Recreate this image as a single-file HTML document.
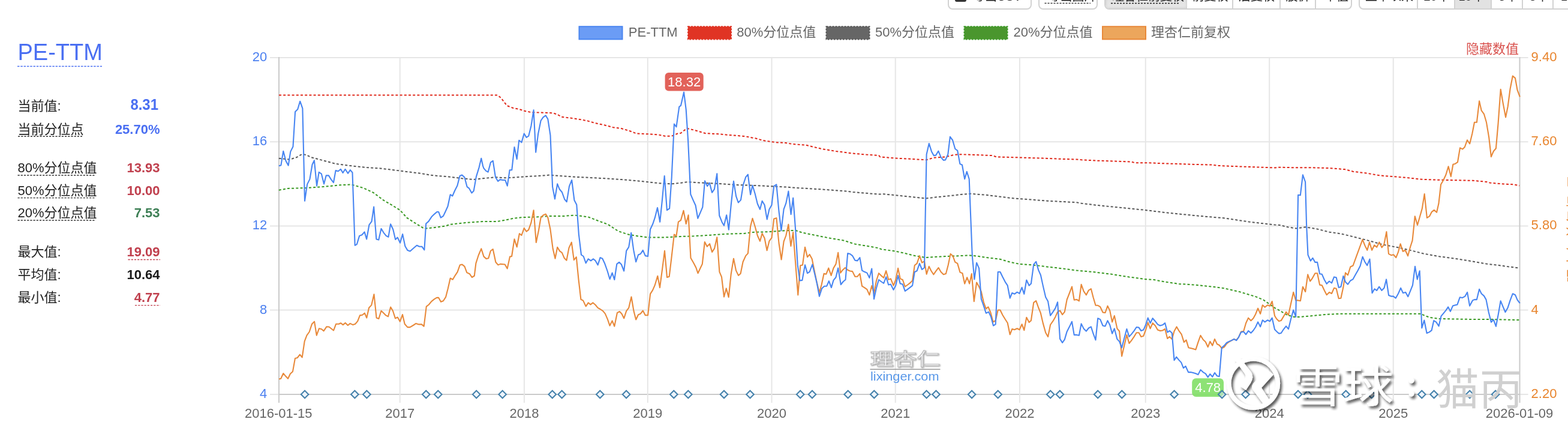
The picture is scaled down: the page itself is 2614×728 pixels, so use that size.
<!DOCTYPE html>
<html><head><meta charset="utf-8"><title>PE-TTM</title>
<style>
html,body{margin:0;padding:0;background:#fff;}
body{width:2614px;height:728px;position:relative;overflow:hidden;font-family:"Liberation Sans", "Noto Sans CJK SC", sans-serif;}
.btn{position:absolute;top:-30px;height:46px;border:2px solid #d2d2d2;border-radius:0 0 8px 8px;box-sizing:border-box;background:#fff;}
</style></head><body>
<div class="btn" style="left:1580px;width:140px"></div>
<div class="btn" style="left:1731px;width:99px"></div>
<div class="btn" style="left:1841px;width:413px;overflow:hidden"><div style="position:absolute;left:0;top:0;width:136px;height:100%;background:linear-gradient(#d8d8d8,#e8e8e8);box-shadow:inset 0 0 4px rgba(0,0,0,.15)"></div>
<div style="position:absolute;left:211px;top:0;height:100%;border-left:2px solid #d2d2d2"></div><div style="position:absolute;left:290px;top:0;height:100%;border-left:2px solid #d2d2d2"></div><div style="position:absolute;left:349px;top:0;height:100%;border-left:2px solid #d2d2d2"></div></div>
<div class="btn" style="left:2265px;width:380px;overflow:hidden"><div style="position:absolute;left:157px;top:0;width:59px;height:100%;background:#e2e2e2;border-left:2px solid #d2d2d2;border-right:2px solid #d2d2d2"></div>
<div style="position:absolute;left:95px;top:0;height:100%;border-left:2px solid #d2d2d2"></div><div style="position:absolute;left:270px;top:0;height:100%;border-left:2px solid #d2d2d2"></div><div style="position:absolute;left:321px;top:0;height:100%;border-left:2px solid #d2d2d2"></div></div>
<div style="position:absolute;left:1592px;top:-10px;width:19px;height:13px;background:#333;border-radius:3px"></div>
<svg width="2614" height="728" viewBox="0 0 2614 728" style="position:absolute;left:0;top:0"><defs><filter id="sh" x="-20%" y="-20%" width="140%" height="140%"><feGaussianBlur in="SourceAlpha" stdDeviation="2.2"/><feOffset dx="3" dy="4" result="b"/><feFlood flood-color="#000" flood-opacity="0.68"/><feComposite in2="b" operator="in"/><feMerge><feMergeNode/><feMergeNode in="SourceGraphic"/></feMerge></filter><filter id="sh2" x="-20%" y="-20%" width="140%" height="140%"><feGaussianBlur in="SourceAlpha" stdDeviation="1"/><feOffset dx="1" dy="1" result="b"/><feFlood flood-color="#000" flood-opacity="0.45"/><feComposite in2="b" operator="in"/><feMerge><feMergeNode/><feMergeNode in="SourceGraphic"/></feMerge></filter></defs><line x1="450" y1="96" x2="2547.5" y2="96" stroke="#e6e6e6" stroke-width="2"/><line x1="450" y1="236.2" x2="2547.5" y2="236.2" stroke="#e6e6e6" stroke-width="2"/><line x1="450" y1="376.4" x2="2547.5" y2="376.4" stroke="#e6e6e6" stroke-width="2"/><line x1="450" y1="516.6" x2="2547.5" y2="516.6" stroke="#e6e6e6" stroke-width="2"/><line x1="450" y1="657" x2="2547.5" y2="657" stroke="#e6e6e6" stroke-width="2"/><line x1="465" y1="657" x2="2533.5" y2="657" stroke="#cacaca" stroke-width="2"/><line x1="666.7" y1="96" x2="666.7" y2="671" stroke="#e6e6e6" stroke-width="2"/><line x1="873.9" y1="96" x2="873.9" y2="671" stroke="#e6e6e6" stroke-width="2"/><line x1="1079.8" y1="96" x2="1079.8" y2="671" stroke="#e6e6e6" stroke-width="2"/><line x1="1286.5" y1="96" x2="1286.5" y2="671" stroke="#e6e6e6" stroke-width="2"/><line x1="1492.7" y1="96" x2="1492.7" y2="671" stroke="#e6e6e6" stroke-width="2"/><line x1="1699.9" y1="96" x2="1699.9" y2="671" stroke="#e6e6e6" stroke-width="2"/><line x1="1909.7" y1="96" x2="1909.7" y2="671" stroke="#e6e6e6" stroke-width="2"/><line x1="2116.2" y1="96" x2="2116.2" y2="671" stroke="#e6e6e6" stroke-width="2"/><line x1="2322.7" y1="96" x2="2322.7" y2="671" stroke="#e6e6e6" stroke-width="2"/><line x1="465" y1="95" x2="465" y2="671" stroke="#cacaca" stroke-width="2"/><line x1="2533.5" y1="95" x2="2533.5" y2="671" stroke="#cacaca" stroke-width="2"/><g font-family='"Liberation Sans", "Noto Sans CJK SC", sans-serif' font-size="22" fill="#4a7ff0" text-anchor="end"><text x="445.3" y="101.9">20</text><text x="445.3" y="242.1">16</text><text x="445.3" y="382.3">12</text><text x="445.3" y="522.5">8</text><text x="445.3" y="662.9">4</text></g><g font-family='"Liberation Sans", "Noto Sans CJK SC", sans-serif' font-size="22" fill="#e8852e" text-anchor="start"><text x="2552.6" y="101.9">9.40</text><text x="2552.6" y="242.1">7.60</text><text x="2552.6" y="382.3">5.80</text><text x="2552.6" y="522.5">4</text><text x="2552.6" y="662.9">2.20</text></g><g font-family='"Liberation Sans", "Noto Sans CJK SC", sans-serif' font-size="22" fill="#666" text-anchor="middle"><text x="464.3" y="695.6">2016-01-15</text><text x="666.7" y="695.6">2017</text><text x="873.9" y="695.6">2018</text><text x="1079.8" y="695.6">2019</text><text x="1286.5" y="695.6">2020</text><text x="1492.7" y="695.6">2021</text><text x="1699.9" y="695.6">2022</text><text x="1909.7" y="695.6">2023</text><text x="2116.2" y="695.6">2024</text><text x="2322.7" y="695.6">2025</text><text x="2533" y="695.6">2026-01-09</text></g><polyline points="465.0,158.6 829.6,158.6 835.2,163.1 845.0,175.9 854.7,179.8 865.9,182.0 874.3,184.8 885.4,187.1 902.2,187.6 921.7,188.2 930.0,191.0 935.6,194.6 952.4,196.8 969.1,199.3 980.3,201.6 991.4,204.9 1008.2,208.5 1022.1,212.2 1036.0,214.1 1050.0,218.3 1061.2,222.5 1080.7,223.3 1097.4,224.4 1108.6,226.7 1119.7,226.7 1129.5,222.5 1135.0,221.7 1145.1,213.8 1156.8,216.6 1176.4,222.2 1198.7,223.3 1215.4,225.0 1240.5,226.9 1260.0,230.5 1271.2,233.9 1293.5,237.2 1310.3,238.1 1321.4,240.0 1343.7,241.7 1354.9,244.5 1371.6,248.4 1393.9,252.0 1421.8,255.6 1444.1,257.6 1465.0,259.0 1467.3,261.4 1492.4,263.6 1517.5,264.7 1544.0,266.4 1556.6,262.8 1576.1,261.4 1590.0,258.0 1601.2,257.2 1626.3,258.0 1654.2,259.1 1661.2,261.4 1682.1,261.9 1710.0,262.8 1737.9,263.6 1765.8,264.7 1795.0,265.6 1802.9,266.3 1830.8,267.7 1858.7,268.5 1886.6,269.6 1892.2,271.3 1914.5,271.3 1942.4,272.4 1970.3,273.2 1998.2,274.1 2020.5,274.6 2031.6,276.0 2053.9,276.9 2081.8,278.0 2125.0,279.4 2132.9,278.7 2160.8,279.3 2188.7,279.3 2216.6,280.1 2241.7,282.1 2255.6,285.7 2278.0,288.5 2300.3,292.4 2322.6,294.1 2344.9,296.0 2370.0,298.8 2397.9,299.7 2425.8,300.2 2455.0,300.8 2478.0,302.9 2483.6,304.5 2505.9,306.5 2522.6,307.3 2533.2,309.3" fill="none" stroke="#e02a1c" stroke-width="2" stroke-dasharray="4 3.2"/><polyline points="464.8,263.7 482.9,265.7 494.0,262.3 503.8,256.7 510.8,258.1 519.2,262.3 538.7,267.3 559.6,272.9 580.5,275.7 611.2,279.1 633.5,280.4 667.0,284.6 700.5,288.8 722.8,292.4 747.9,294.4 770.2,297.2 789.7,299.1 805.0,297.2 826.8,295.2 840.8,296.3 854.7,295.8 874.3,294.4 896.6,293.0 916.1,291.6 932.8,293.0 952.4,294.4 980.3,295.8 1008.2,297.2 1036.0,299.1 1063.9,301.4 1083.5,303.6 1103.0,305.6 1119.7,306.4 1135.0,304.7 1145.7,303.2 1170.8,304.6 1198.7,306.0 1226.6,308.0 1254.5,308.8 1282.4,310.2 1310.3,311.6 1338.2,313.6 1366.0,315.2 1393.9,317.2 1410.7,318.6 1421.8,320.0 1465.0,323.6 1472.9,323.3 1495.2,325.5 1517.5,327.8 1544.0,330.5 1562.2,328.3 1584.5,326.1 1601.2,324.1 1617.9,322.7 1645.8,325.0 1668.2,327.8 1690.5,330.5 1718.4,332.5 1746.3,334.7 1795.0,337.2 1802.9,338.8 1830.8,342.1 1858.7,344.9 1886.6,347.7 1908.9,349.9 1942.4,354.1 1970.3,356.9 1998.2,359.7 2040.0,363.3 2053.9,365.3 2081.8,369.5 2109.7,372.8 2125.0,374.5 2132.9,374.9 2146.8,378.3 2160.8,380.5 2176.1,378.3 2194.3,381.1 2216.6,386.7 2236.1,389.5 2258.4,395.0 2280.7,400.6 2305.8,407.6 2328.2,411.8 2350.5,416.8 2372.8,422.4 2397.9,427.1 2425.8,430.8 2455.0,435.5 2478.0,439.6 2497.6,441.8 2517.1,444.6 2533.0,446.5" fill="none" stroke="#5a5a5a" stroke-width="2" stroke-dasharray="4 3.2"/><polyline points="464.8,316.7 480.1,313.9 510.8,313.1 538.7,311.1 566.6,308.3 586.1,307.5 605.6,313.1 622.4,320.9 639.1,333.4 655.8,343.2 667.0,350.2 678.2,362.7 692.1,371.7 707.4,380.9 720.0,379.5 742.3,376.7 750.7,373.9 775.8,371.1 805.0,368.9 829.6,368.9 840.8,366.9 854.7,364.1 868.7,362.2 896.6,361.3 918.9,359.9 941.2,359.9 957.9,358.5 980.3,361.3 997.0,367.8 1013.7,373.9 1030.5,385.0 1047.2,390.6 1064.0,393.4 1080.7,395.6 1105.8,395.6 1135.0,394.0 1156.8,393.3 1184.7,391.7 1212.6,389.7 1240.5,388.9 1254.5,386.9 1282.4,386.1 1310.3,384.1 1327.0,384.1 1338.2,387.8 1354.9,391.1 1380.0,396.1 1407.9,400.9 1424.6,406.4 1449.7,410.6 1465.0,413.4 1469.5,415.3 1491.0,418.3 1506.3,421.4 1524.8,426.0 1543.2,429.1 1567.7,427.5 1589.2,426.6 1616.8,425.4 1629.0,426.6 1644.4,429.1 1665.9,431.5 1684.3,436.7 1699.6,439.8 1721.1,441.3 1745.6,444.4 1767.1,446.9 1795.0,450.6 1821.0,452.9 1851.7,456.6 1882.4,461.5 1910.0,465.2 1922.2,465.8 1943.7,469.8 1965.2,472.9 1989.7,474.4 2020.4,477.5 2038.8,479.9 2066.4,486.1 2094.0,494.4 2106.3,499.6 2125.0,512.8 2129.5,515.1 2144.9,524.3 2157.1,528.0 2166.3,528.0 2190.9,525.8 2212.4,523.7 2233.8,522.8 2273.7,522.8 2319.7,522.8 2368.8,522.8 2374.9,525.8 2384.1,528.9 2399.5,531.0 2455.0,532.0 2483.6,532.0 2533.8,533.1" fill="none" stroke="#3b9a25" stroke-width="2" stroke-dasharray="4 3.2"/><polyline points="465.0,631.5 468.2,630.8 472.3,622.0 476.3,626.8 480.1,630.8 483.9,622.7 488.0,618.9 492.0,596.9 495.8,596.0 499.9,590.7 503.7,595.4 507.7,568.7 511.5,558.6 515.6,553.0 520.0,539.8 524.1,535.7 527.8,558.6 531.9,547.3 536.0,548.3 539.7,551.4 544.5,544.2 548.5,544.5 556.1,550.5 560.1,539.8 564.9,539.8 568.0,538.2 571.8,541.1 575.8,537.9 579.9,542.0 583.7,538.9 588.4,541.1 592.2,539.8 596.2,535.1 600.0,525.4 604.1,524.7 607.9,521.6 611.3,529.5 615.1,512.8 619.2,508.4 623.5,490.2 627.6,529.5 631.4,531.0 635.5,517.8 640.2,522.2 643.3,525.4 647.1,527.3 651.2,511.6 654.9,517.8 659.0,530.4 662.8,528.5 666.9,535.7 671.0,524.1 674.7,539.8 679.4,545.1 683.5,545.1 688.8,542.0 693.5,538.9 698.3,540.4 703.0,540.4 706.7,543.6 710.8,510.6 714.9,507.5 719.3,502.1 724.3,498.1 728.1,495.9 731.2,495.9 735.0,502.8 739.0,501.2 743.1,494.9 746.9,480.2 750.7,463.5 754.7,465.7 758.8,458.8 762.6,453.2 766.7,441.6 770.4,440.6 774.5,443.8 778.3,454.1 783.0,456.3 786.8,462.0 790.8,459.5 793.4,438.6 797.6,425.5 802.3,414.3 806.5,427.4 810.7,431.1 814.3,430.2 817.9,418.0 821.8,415.2 826.4,436.8 830.4,441.4 834.1,439.9 841.7,440.5 845.7,447.5 850.0,427.6 853.1,427.0 857.5,398.4 861.7,411.5 865.9,389.2 869.5,392.0 873.7,380.0 877.6,385.6 881.2,382.8 885.4,371.1 889.6,350.2 893.8,404.0 898.0,383.7 901.6,362.7 905.5,358.5 909.7,356.6 913.3,362.2 917.5,382.3 921.7,414.3 925.5,430.7 929.2,411.7 933.2,418.4 936.8,420.9 940.8,430.1 944.5,433.7 948.5,412.9 952.8,403.7 956.8,433.1 960.8,428.2 964.4,464.4 968.4,498.8 972.1,500.6 976.7,510.4 980.7,504.3 984.4,507.4 988.4,504.3 992.7,508.0 996.7,512.9 1000.6,515.0 1005.2,518.1 1008.9,522.7 1012.9,531.9 1016.6,542.6 1020.6,534.4 1024.3,543.6 1028.9,521.2 1032.9,519.0 1036.5,522.7 1040.2,530.4 1044.2,518.1 1048.2,512.9 1052.5,494.5 1056.5,518.1 1060.2,532.5 1064.1,524.2 1067.8,522.7 1071.8,517.5 1075.8,525.2 1080.1,525.2 1084.1,489.6 1088.1,483.4 1091.7,475.2 1096.3,459.8 1100.0,479.1 1104.0,449.1 1108.0,417.8 1112.0,462.0 1115.7,460.7 1119.3,430.7 1123.9,390.6 1127.5,392.9 1130.9,369.7 1135.0,366.9 1139.5,350.7 1143.7,373.0 1147.6,358.2 1151.5,429.8 1156.4,438.3 1160.4,446.0 1163.5,455.2 1167.1,447.5 1170.8,439.9 1174.8,403.1 1178.8,410.7 1183.1,406.1 1187.1,419.9 1191.1,413.8 1195.3,395.3 1199.4,452.8 1203.0,461.3 1207.0,494.5 1210.7,480.4 1214.7,495.1 1218.7,456.7 1223.0,430.7 1227.0,450.6 1231.0,458.9 1234.6,455.8 1238.6,436.2 1243.2,426.1 1246.9,422.1 1251.1,377.2 1254.5,363.8 1258.7,377.2 1262.8,392.5 1267.0,401.7 1270.6,388.9 1274.6,396.7 1278.6,417.3 1282.4,401.7 1286.5,396.1 1290.2,364.6 1294.4,363.2 1298.5,405.0 1302.6,432.5 1306.6,402.3 1310.3,392.5 1314.4,373.8 1318.4,410.0 1322.2,386.9 1326.2,438.5 1330.3,491.4 1334.3,442.3 1338.0,441.4 1342.0,411.7 1346.0,428.2 1349.7,423.9 1353.7,431.3 1358.0,452.8 1361.9,471.2 1365.9,487.4 1369.6,474.2 1373.6,455.8 1377.3,456.7 1381.3,446.6 1385.6,458.9 1389.5,446.6 1393.5,439.9 1397.2,420.9 1401.2,454.6 1404.9,449.7 1408.9,446.0 1413.2,449.7 1417.1,451.5 1421.1,452.1 1425.4,460.7 1429.4,460.7 1433.4,455.8 1437.1,476.7 1441.1,479.1 1445.4,482.2 1449.4,491.4 1453.3,476.1 1457.0,489.0 1461.0,467.5 1465.0,455.2 1468.9,459.1 1473.2,462.8 1477.2,451.2 1481.2,465.9 1484.9,464.4 1489.5,475.7 1493.2,466.5 1497.1,446.9 1500.8,464.4 1504.8,466.0 1508.8,477.5 1513.1,474.5 1517.1,471.4 1521.1,467.4 1524.8,442.0 1528.7,438.9 1533.0,426.0 1537.0,437.7 1541.0,435.2 1544.7,456.7 1548.7,443.8 1552.4,451.2 1556.3,457.3 1560.6,451.2 1564.6,446.0 1568.6,453.0 1572.9,457.3 1576.9,456.1 1580.6,442.0 1584.6,422.9 1588.6,426.6 1592.2,436.7 1596.2,438.9 1600.5,453.6 1604.5,455.2 1608.2,472.6 1612.2,462.2 1616.2,472.6 1619.8,456.1 1623.8,502.1 1628.1,470.5 1632.1,477.5 1635.8,485.8 1639.8,503.3 1643.8,514.4 1647.5,511.3 1651.4,520.5 1655.7,536.4 1659.7,534.0 1663.7,516.5 1667.4,516.5 1671.4,524.8 1675.7,531.8 1679.7,538.0 1683.7,557.3 1687.3,548.1 1691.3,549.3 1695.6,547.2 1699.6,549.3 1703.6,540.1 1707.3,550.2 1711.3,528.8 1715.6,537.1 1718.9,534.0 1723.2,504.2 1727.2,501.2 1731.2,512.5 1734.9,521.7 1738.9,538.9 1743.2,554.2 1747.1,561.0 1751.1,541.0 1755.4,534.9 1759.4,527.9 1763.1,519.6 1767.1,517.4 1771.1,524.2 1774.8,519.6 1778.7,499.0 1783.0,488.0 1787.0,477.5 1790.7,499.6 1795.0,499.0 1798.9,501.4 1802.6,473.8 1806.6,485.2 1810.9,491.3 1814.9,483.6 1818.9,481.2 1822.5,495.3 1826.5,508.8 1830.2,508.8 1834.2,511.2 1838.5,520.4 1842.5,521.0 1846.5,509.7 1850.2,517.4 1854.1,536.4 1857.8,526.0 1862.4,547.4 1866.1,551.7 1870.1,593.4 1874.1,576.3 1878.4,557.9 1882.4,572.0 1886.3,567.1 1890.6,560.9 1894.6,554.2 1898.6,554.2 1902.3,560.9 1906.3,559.7 1910.0,549.6 1913.7,537.3 1917.6,547.4 1921.6,538.2 1925.9,542.5 1929.9,549.6 1933.9,551.1 1938.2,550.5 1942.2,548.0 1946.2,564.0 1949.8,560.9 1953.8,564.9 1957.5,551.7 1961.5,544.4 1965.8,551.7 1969.8,557.2 1973.8,570.1 1977.5,566.4 1981.4,579.3 1986.0,580.2 1989.7,581.2 1993.4,582.4 1997.4,570.1 2001.4,558.8 2005.7,565.8 2009.7,569.5 2013.7,578.1 2017.3,568.9 2021.3,575.6 2025.0,564.9 2029.0,573.2 2032.7,575.0 2036.7,580.2 2041.0,578.1 2044.9,572.6 2048.9,569.5 2053.2,567.1 2057.2,564.9 2061.2,566.4 2064.9,561.8 2068.9,552.6 2073.2,551.7 2077.1,538.2 2081.1,529.6 2085.4,534.2 2089.4,530.2 2093.1,523.5 2097.1,513.7 2101.1,522.9 2104.8,508.2 2108.7,511.8 2113.0,508.2 2117.0,509.7 2120.7,502.0 2125.0,526.0 2128.0,531.0 2132.0,535.0 2135.7,534.1 2139.7,527.4 2144.0,519.7 2147.9,524.9 2151.9,506.5 2156.2,486.9 2160.2,500.4 2164.2,500.4 2167.9,501.3 2171.9,477.7 2176.2,486.0 2180.2,457.4 2184.1,468.5 2187.8,463.6 2192.4,455.3 2196.1,455.3 2200.1,474.6 2203.8,475.2 2207.8,483.8 2211.7,491.2 2216.0,486.9 2220.0,489.0 2224.0,479.8 2227.7,480.7 2231.7,497.3 2235.4,496.7 2239.4,478.3 2243.0,454.4 2247.0,458.3 2251.3,444.5 2255.6,442.5 2261.2,427.1 2266.8,411.8 2271.5,399.2 2275.7,409.6 2279.3,416.8 2283.0,403.4 2287.1,416.8 2291.1,408.4 2295.2,411.8 2299.4,403.4 2303.6,412.3 2307.2,407.6 2311.4,386.1 2315.0,422.9 2319.2,425.2 2323.1,424.3 2327.3,429.1 2330.9,420.2 2334.6,406.2 2338.8,418.8 2342.7,416.8 2347.1,426.3 2351.0,411.8 2354.6,400.6 2358.8,360.2 2363.0,375.0 2367.2,360.2 2370.8,347.6 2374.7,323.1 2378.9,363.0 2383.1,360.2 2386.7,353.2 2390.9,349.9 2395.1,353.8 2398.4,339.3 2402.1,307.2 2406.2,300.2 2410.4,291.3 2414.6,277.3 2418.8,294.1 2422.4,273.7 2425.8,272.9 2430.0,270.1 2434.0,246.4 2438.2,248.4 2441.8,245.0 2446.0,233.3 2450.2,239.5 2454.4,222.2 2458.0,203.8 2461.9,203.8 2466.1,168.3 2469.7,184.2 2473.9,189.8 2478.0,203.8 2482.2,228.9 2485.9,261.2 2489.8,252.0 2493.9,247.3 2497.6,205.4 2501.7,148.8 2505.9,173.1 2510.1,195.4 2513.7,177.5 2517.6,148.0 2521.8,126.5 2526.0,130.1 2529.6,150.2 2533.8,161.4" fill="none" stroke="#e8893a" stroke-width="2.1" stroke-linejoin="round"/><polyline points="464.8,276.3 468.4,275.4 472.3,251.7 476.5,267.9 480.7,275.7 484.3,252.6 488.5,244.2 492.1,186.2 496.3,182.0 500.2,168.7 504.4,180.7 508.0,334.8 512.2,306.9 516.4,298.6 520.6,274.0 523.9,267.3 528.1,309.7 531.7,286.9 535.9,289.7 540.1,306.4 543.7,292.4 547.9,292.4 552.1,299.1 556.0,304.2 559.6,284.1 563.8,285.2 568.0,281.8 571.6,288.0 575.5,281.8 580.0,288.8 583.9,283.2 587.5,287.4 591.7,408.8 595.0,406.8 599.2,392.9 603.4,391.2 607.6,386.4 611.2,398.4 615.4,374.7 619.6,368.9 623.2,344.6 627.4,398.4 631.3,399.6 635.5,380.9 639.7,387.8 643.8,392.9 647.5,394.8 651.1,373.3 655.3,382.3 659.2,399.0 662.8,395.6 667.0,404.6 671.2,390.1 675.4,410.2 679.5,417.1 683.7,418.5 689.3,413.5 694.9,408.8 699.1,410.7 703.3,410.7 707.4,416.3 710.2,372.5 714.4,368.9 719.4,361.3 724.2,356.6 728.4,353.0 731.2,353.0 734.8,362.7 739.0,359.9 742.3,353.0 746.5,343.8 750.7,324.2 754.3,326.5 758.2,317.5 762.4,309.2 766.6,293.0 770.2,291.6 774.4,295.2 778.6,311.1 782.2,313.9 786.4,321.5 789.7,318.1 793.9,294.4 798.6,279.1 802.3,263.7 805.0,276.3 806.5,280.4 810.1,284.6 813.7,286.6 817.9,270.7 821.8,267.9 826.0,295.2 830.2,301.9 833.8,299.1 838.0,300.0 842.2,300.0 845.8,309.7 849.7,283.2 853.3,283.2 857.5,245.0 861.7,265.1 865.3,233.7 869.5,237.3 873.7,222.5 877.6,228.9 881.2,226.7 885.4,210.0 889.6,183.4 893.2,253.6 897.1,223.3 901.6,201.0 905.5,195.4 909.7,192.4 913.3,198.2 917.5,225.3 921.1,311.1 925.0,331.5 929.2,306.4 932.8,315.3 937.0,320.3 941.2,332.0 944.8,336.2 949.0,310.3 953.2,300.0 957.4,333.4 961.3,341.0 964.9,390.6 969.0,424.5 972.7,427.0 976.7,438.3 980.7,431.3 985.0,434.4 989.0,431.3 992.7,434.4 996.7,441.4 1000.6,429.1 1004.3,430.7 1008.3,439.3 1012.6,451.5 1016.6,465.0 1020.6,454.6 1024.3,466.0 1028.3,439.9 1032.2,436.8 1035.9,440.5 1040.2,451.5 1044.2,417.8 1048.2,411.7 1052.2,387.8 1056.3,416.9 1060.2,436.2 1064.1,424.5 1067.8,423.0 1071.8,416.9 1075.8,426.1 1080.1,427.0 1084.0,382.3 1088.2,373.3 1091.8,362.7 1096.0,346.0 1100.2,369.7 1103.8,334.8 1107.7,293.0 1111.9,350.2 1116.1,347.4 1119.7,295.8 1123.9,206.6 1127.5,211.3 1132.3,177.9 1135.0,175.9 1140.1,153.6 1143.7,182.3 1147.1,233.9 1151.3,323.6 1155.4,333.1 1159.6,342.3 1163.3,363.8 1167.4,354.3 1171.3,345.1 1175.0,301.3 1179.2,310.2 1182.8,304.6 1187.0,320.8 1190.9,315.2 1195.3,289.3 1199.2,359.0 1203.7,370.2 1207.0,375.8 1211.2,358.2 1214.9,382.7 1218.8,340.9 1223.0,301.8 1227.1,326.9 1230.8,337.5 1235.0,333.1 1239.1,307.4 1243.3,294.9 1246.9,290.7 1251.1,324.2 1254.5,308.8 1258.7,322.8 1262.8,339.5 1267.0,348.7 1270.6,334.8 1274.6,341.5 1278.7,365.4 1282.4,348.7 1286.5,341.5 1290.2,310.2 1294.4,307.4 1298.5,352.0 1302.4,384.1 1306.6,348.7 1310.3,338.7 1314.4,318.6 1318.6,357.1 1322.2,329.7 1326.4,385.5 1329.7,441.4 1333.4,467.5 1337.4,466.9 1342.0,441.4 1346.0,455.2 1349.7,452.8 1354.3,440.5 1358.3,456.7 1361.9,472.1 1365.9,493.6 1370.2,480.4 1374.2,476.7 1378.2,476.7 1381.9,468.1 1385.9,479.1 1389.5,466.9 1393.5,462.0 1397.2,446.6 1401.8,474.2 1405.8,469.0 1409.5,466.0 1413.2,422.1 1417.1,423.0 1421.1,426.1 1425.4,433.7 1429.4,434.4 1433.4,429.1 1437.1,450.6 1441.1,452.8 1445.4,454.6 1449.4,462.9 1453.3,447.5 1457.0,498.2 1461.0,479.8 1465.0,466.0 1468.9,469.0 1473.2,472.0 1477.2,461.3 1481.2,474.5 1484.9,473.6 1489.5,482.8 1493.2,475.7 1497.1,459.1 1500.8,472.6 1504.8,473.6 1508.8,484.9 1513.1,481.8 1517.1,478.8 1521.1,475.7 1524.8,453.0 1528.7,451.2 1533.0,438.9 1537.0,449.0 1541.0,446.0 1544.6,257.2 1548.8,239.1 1553.0,252.4 1556.6,259.1 1560.2,258.6 1564.4,251.6 1568.6,261.9 1572.8,266.9 1576.1,266.4 1580.3,257.2 1583.9,227.9 1588.1,233.5 1592.3,248.0 1596.2,250.8 1600.4,273.1 1604.0,274.8 1608.2,298.2 1611.8,285.9 1615.7,298.2 1620.8,426.0 1624.4,465.3 1628.1,437.7 1632.1,446.9 1635.8,498.1 1639.8,509.4 1643.8,521.7 1648.1,519.6 1652.1,527.9 1656.0,542.6 1659.7,540.1 1663.7,453.0 1667.4,453.0 1671.4,461.3 1675.7,469.6 1679.7,475.7 1683.7,496.6 1687.3,488.0 1691.3,489.8 1695.6,486.7 1699.6,488.9 1703.6,478.8 1707.3,489.8 1711.3,466.5 1715.6,475.7 1718.9,472.6 1723.2,440.7 1727.2,435.8 1731.2,449.9 1734.9,458.2 1738.9,476.6 1743.2,495.0 1747.1,502.1 1751.1,525.7 1755.4,519.6 1759.4,513.4 1763.1,503.3 1767.1,564.7 1771.1,570.8 1774.8,565.6 1778.7,552.4 1783.0,544.1 1787.0,535.8 1790.7,557.9 1795.0,557.9 1798.9,558.8 1802.6,539.4 1806.6,547.4 1810.9,551.7 1814.9,546.5 1818.9,544.4 1822.5,555.7 1826.5,566.4 1830.2,530.2 1834.2,532.1 1838.5,542.5 1842.5,543.4 1846.5,534.2 1850.2,541.3 1854.1,555.7 1857.8,547.4 1862.4,564.9 1866.1,568.9 1870.1,579.3 1874.1,564.0 1878.4,548.0 1882.4,560.9 1886.3,556.6 1890.6,551.1 1894.6,545.0 1898.6,545.6 1902.3,551.1 1906.3,549.6 1910.0,541.3 1913.7,529.6 1917.6,538.2 1921.6,530.2 1925.9,535.2 1929.9,540.4 1933.9,542.5 1938.2,541.3 1942.2,538.2 1946.2,553.6 1949.8,551.1 1953.8,554.8 1957.5,600.2 1961.2,594.7 1965.2,599.6 1969.2,603.9 1972.9,613.1 1976.5,610.0 1981.1,620.1 1985.1,620.1 1989.1,621.0 1993.4,622.3 1997.4,624.1 2001.4,616.1 2005.7,620.1 2009.7,622.3 2013.7,628.4 2017.3,623.2 2021.3,627.8 2025.0,621.0 2029.0,626.3 2032.7,627.2 2036.7,579.3 2041.0,575.6 2044.9,571.0 2048.9,568.9 2053.2,567.1 2057.2,564.9 2061.2,567.1 2064.9,561.8 2068.9,553.6 2073.2,552.6 2077.1,557.2 2081.1,551.1 2085.4,554.8 2089.4,550.5 2093.1,545.0 2097.1,536.4 2101.1,544.4 2104.8,533.3 2108.7,536.4 2113.0,533.3 2117.0,535.2 2120.7,529.6 2125.0,548.7 2128.0,551.9 2132.0,555.6 2135.7,555.0 2139.7,548.8 2144.0,543.3 2147.9,548.2 2151.9,532.0 2156.2,516.6 2160.2,528.0 2164.1,324.8 2167.8,325.3 2171.9,291.3 2176.1,303.0 2178.1,375.5 2180.5,424.6 2184.8,434.7 2188.4,429.8 2192.4,436.9 2196.1,436.9 2200.1,456.2 2203.8,456.8 2207.8,466.0 2211.7,472.8 2216.0,468.5 2220.0,471.5 2224.0,461.4 2227.7,462.3 2231.7,478.9 2235.4,477.7 2239.4,459.9 2243.0,469.7 2247.0,473.7 2251.3,467.5 2255.3,465.4 2259.3,458.3 2263.6,450.7 2267.6,443.0 2271.6,427.7 2275.2,436.0 2279.2,442.1 2283.5,431.7 2287.5,488.1 2291.5,481.3 2295.2,483.8 2299.2,477.7 2303.5,483.8 2307.5,479.8 2311.1,465.4 2315.1,492.1 2319.1,493.6 2322.8,493.6 2326.8,496.7 2331.1,489.0 2335.1,479.8 2339.0,488.1 2343.3,486.9 2347.3,494.2 2351.3,484.4 2355.0,475.2 2359.0,443.9 2362.7,465.4 2366.7,451.3 2370.3,546.4 2374.3,533.5 2378.6,555.0 2382.6,553.4 2386.6,550.4 2390.3,534.1 2394.3,536.6 2398.6,543.3 2402.5,526.7 2406.5,521.8 2410.8,516.6 2414.2,511.4 2417.9,518.8 2421.9,509.6 2426.2,508.3 2429.5,507.4 2433.8,495.2 2437.8,496.1 2442.4,493.6 2446.1,486.9 2450.1,509.6 2455.0,500.4 2458.0,499.1 2461.9,499.1 2466.1,481.8 2469.7,489.3 2473.9,492.9 2477.5,499.1 2481.7,520.0 2485.9,536.7 2489.8,532.5 2493.9,543.7 2497.6,524.7 2501.7,501.3 2505.9,511.6 2509.5,520.0 2513.7,512.4 2517.6,500.4 2521.8,489.3 2526.0,491.2 2529.6,499.6 2533.8,505.2" fill="none" stroke="#4785f2" stroke-width="2.1" stroke-linejoin="round"/><rect x="1108.6" y="121" width="64.1" height="30.6" rx="6" fill="#e2625a"/><text x="1140.6" y="144" font-family='"Liberation Sans", "Noto Sans CJK SC", sans-serif' font-size="22" fill="#fff" text-anchor="middle">18.32</text><rect x="1987.2" y="630.3" width="52.8" height="30.7" rx="6.5" fill="#84e06a" fill-opacity="0.93"/><text x="2013.7" y="653" font-family='"Liberation Sans", "Noto Sans CJK SC", sans-serif' font-size="22" fill="#fff" text-anchor="middle">4.78</text><path d="M508.1 650.7L514.4 657L508.1 663.3L501.8 657Z" fill="#edf4fc" stroke="#4380aa" stroke-width="2"/><path d="M591.4 650.7L597.6999999999999 657L591.4 663.3L585.1 657Z" fill="#edf4fc" stroke="#4380aa" stroke-width="2"/><path d="M611.4 650.7L617.6999999999999 657L611.4 663.3L605.1 657Z" fill="#edf4fc" stroke="#4380aa" stroke-width="2"/><path d="M710.3 650.7L716.5999999999999 657L710.3 663.3L704.0 657Z" fill="#edf4fc" stroke="#4380aa" stroke-width="2"/><path d="M730.3 650.7L736.5999999999999 657L730.3 663.3L724.0 657Z" fill="#edf4fc" stroke="#4380aa" stroke-width="2"/><path d="M794.2 650.7L800.5 657L794.2 663.3L787.9000000000001 657Z" fill="#edf4fc" stroke="#4380aa" stroke-width="2"/><path d="M837.7 650.7L844.0 657L837.7 663.3L831.4000000000001 657Z" fill="#edf4fc" stroke="#4380aa" stroke-width="2"/><path d="M920.8 650.7L927.0999999999999 657L920.8 663.3L914.5 657Z" fill="#edf4fc" stroke="#4380aa" stroke-width="2"/><path d="M936.7 650.7L943.0 657L936.7 663.3L930.4000000000001 657Z" fill="#edf4fc" stroke="#4380aa" stroke-width="2"/><path d="M1000.3 650.7L1006.5999999999999 657L1000.3 663.3L994.0 657Z" fill="#edf4fc" stroke="#4380aa" stroke-width="2"/><path d="M1044.1 650.7L1050.3999999999999 657L1044.1 663.3L1037.8 657Z" fill="#edf4fc" stroke="#4380aa" stroke-width="2"/><path d="M1123.3 650.7L1129.6 657L1123.3 663.3L1117.0 657Z" fill="#edf4fc" stroke="#4380aa" stroke-width="2"/><path d="M1147.3 650.7L1153.6 657L1147.3 663.3L1141.0 657Z" fill="#edf4fc" stroke="#4380aa" stroke-width="2"/><path d="M1207 650.7L1213.3 657L1207 663.3L1200.7 657Z" fill="#edf4fc" stroke="#4380aa" stroke-width="2"/><path d="M1250.5 650.7L1256.8 657L1250.5 663.3L1244.2 657Z" fill="#edf4fc" stroke="#4380aa" stroke-width="2"/><path d="M1334.2 650.7L1340.5 657L1334.2 663.3L1327.9 657Z" fill="#edf4fc" stroke="#4380aa" stroke-width="2"/><path d="M1354 650.7L1360.3 657L1354 663.3L1347.7 657Z" fill="#edf4fc" stroke="#4380aa" stroke-width="2"/><path d="M1413.7 650.7L1420.0 657L1413.7 663.3L1407.4 657Z" fill="#edf4fc" stroke="#4380aa" stroke-width="2"/><path d="M1457.3 650.7L1463.6 657L1457.3 663.3L1451.0 657Z" fill="#edf4fc" stroke="#4380aa" stroke-width="2"/><path d="M1544.6 650.7L1550.8999999999999 657L1544.6 663.3L1538.3 657Z" fill="#edf4fc" stroke="#4380aa" stroke-width="2"/><path d="M1560.5 650.7L1566.8 657L1560.5 663.3L1554.2 657Z" fill="#edf4fc" stroke="#4380aa" stroke-width="2"/><path d="M1620.1 650.7L1626.3999999999999 657L1620.1 663.3L1613.8 657Z" fill="#edf4fc" stroke="#4380aa" stroke-width="2"/><path d="M1663.7 650.7L1670.0 657L1663.7 663.3L1657.4 657Z" fill="#edf4fc" stroke="#4380aa" stroke-width="2"/><path d="M1751.2 650.7L1757.5 657L1751.2 663.3L1744.9 657Z" fill="#edf4fc" stroke="#4380aa" stroke-width="2"/><path d="M1766.9 650.7L1773.2 657L1766.9 663.3L1760.6000000000001 657Z" fill="#edf4fc" stroke="#4380aa" stroke-width="2"/><path d="M1830.2 650.7L1836.5 657L1830.2 663.3L1823.9 657Z" fill="#edf4fc" stroke="#4380aa" stroke-width="2"/><path d="M1870.3 650.7L1876.6 657L1870.3 663.3L1864.0 657Z" fill="#edf4fc" stroke="#4380aa" stroke-width="2"/><path d="M1957.6 650.7L1963.8999999999999 657L1957.6 663.3L1951.3 657Z" fill="#edf4fc" stroke="#4380aa" stroke-width="2"/><path d="M2037.2 650.7L2043.5 657L2037.2 663.3L2030.9 657Z" fill="#cfe3f5" fill-opacity="0.5" stroke="#4380aa" stroke-width="2"/><path d="M2076.5 650.7L2082.8 657L2076.5 663.3L2070.2 657Z" fill="#edf4fc" stroke="#4380aa" stroke-width="2"/><path d="M2164 650.7L2170.3 657L2164 663.3L2157.7 657Z" fill="#edf4fc" stroke="#4380aa" stroke-width="2"/><path d="M2180 650.7L2186.3 657L2180 663.3L2173.7 657Z" fill="#edf4fc" stroke="#4380aa" stroke-width="2"/><path d="M2243.7 650.7L2250.0 657L2243.7 663.3L2237.3999999999996 657Z" fill="#edf4fc" stroke="#4380aa" stroke-width="2"/><path d="M2286.6 650.7L2292.9 657L2286.6 663.3L2280.2999999999997 657Z" fill="#edf4fc" stroke="#4380aa" stroke-width="2"/><path d="M2370.3 650.7L2376.6000000000004 657L2370.3 663.3L2364.0 657Z" fill="#edf4fc" stroke="#4380aa" stroke-width="2"/><path d="M2390.6 650.7L2396.9 657L2390.6 663.3L2384.2999999999997 657Z" fill="#edf4fc" stroke="#4380aa" stroke-width="2"/><path d="M2450.2 650.7L2456.5 657L2450.2 663.3L2443.8999999999996 657Z" fill="#edf4fc" stroke="#4380aa" stroke-width="2"/><path d="M2493.1 650.7L2499.4 657L2493.1 663.3L2486.7999999999997 657Z" fill="#edf4fc" stroke="#4380aa" stroke-width="2"/><rect x="965.5" y="44.2" width="72" height="21.2" fill="#6b9cf5" stroke="#4a86f0" stroke-width="2"/><text x="1047.8" y="61.3" font-family='"Liberation Sans", "Noto Sans CJK SC", sans-serif' font-size="22" fill="#666">PE-TTM</text><rect x="1147" y="44.2" width="72" height="21.2" fill="#e03424" stroke="#e03424" stroke-width="2" stroke-dasharray="3 2"/><text x="1228.2" y="61.3" font-family='"Liberation Sans", "Noto Sans CJK SC", sans-serif' font-size="22" fill="#666">80%分位点值</text><rect x="1377.5" y="44.2" width="72" height="21.2" fill="#666" stroke="#555" stroke-width="2" stroke-dasharray="3 2"/><text x="1459.0" y="61.3" font-family='"Liberation Sans", "Noto Sans CJK SC", sans-serif' font-size="22" fill="#666">50%分位点值</text><rect x="1607.5" y="44.2" width="72" height="21.2" fill="#4a962e" stroke="#3b9a25" stroke-width="2" stroke-dasharray="3 2"/><text x="1689.5" y="61.3" font-family='"Liberation Sans", "Noto Sans CJK SC", sans-serif' font-size="22" fill="#666">20%分位点值</text><rect x="1838" y="44.2" width="72" height="21.2" fill="#eca65c" stroke="#e8893a" stroke-width="2"/><text x="1919.0" y="61.3" font-family='"Liberation Sans", "Noto Sans CJK SC", sans-serif' font-size="22" fill="#666">理杏仁前复权</text><text x="2532" y="88.5" font-family='"Liberation Sans", "Noto Sans CJK SC", sans-serif' font-size="22" fill="#d9534f" text-anchor="end">隐藏数值</text><text x="1450.5" y="609" font-family='"Noto Sans CJK SC", sans-serif' font-size="31" fill="#fbfbfd" stroke="#bcbcbc" stroke-width="1.2" textLength="117" lengthAdjust="spacingAndGlyphs" transform="translate(0,609) scale(1,0.94) translate(0,-609)" filter="url(#sh2)">理杏仁</text><line x1="1450.5" y1="615.2" x2="1567.5" y2="615.2" stroke="#999" stroke-width="1.6"/><text x="1451" y="634" font-family='"Liberation Sans", "Noto Sans CJK SC", sans-serif' font-size="19.5" fill="#5897e8" textLength="114.5" lengthAdjust="spacingAndGlyphs">lixinger.com</text><text x="29.5" y="100" font-family='"Liberation Sans", "Noto Sans CJK SC", sans-serif' font-size="38" fill="#4a6ff2">PE-TTM</text><line x1="29" y1="110.5" x2="170" y2="110.5" stroke="#4a6ff2" stroke-width="1.6" stroke-dasharray="3.5 1.8"/><text x="29.5" y="184" font-family='"Liberation Sans", "Noto Sans CJK SC", sans-serif' font-size="22" fill="#222">当前值:</text><text transform="translate(264,183.3) scale(0.9,1)" font-family='"Liberation Sans", "Noto Sans CJK SC", sans-serif' font-size="26.6" font-weight="bold" fill="#4a6ff2" text-anchor="end">8.31</text><text x="29.5" y="223" font-family='"Liberation Sans", "Noto Sans CJK SC", sans-serif' font-size="22" fill="#222">当前分位点</text><text x="266.5" y="223" font-family='"Liberation Sans", "Noto Sans CJK SC", sans-serif' font-size="22" font-weight="bold" fill="#4a6ff2" text-anchor="end">25.70%</text><text x="29.5" y="287" font-family='"Liberation Sans", "Noto Sans CJK SC", sans-serif' font-size="22" fill="#222">80%分位点值</text><text x="266.5" y="287" font-family='"Liberation Sans", "Noto Sans CJK SC", sans-serif' font-size="22" font-weight="bold" fill="#c0404e" text-anchor="end">13.93</text><text x="29.5" y="324.5" font-family='"Liberation Sans", "Noto Sans CJK SC", sans-serif' font-size="22" fill="#222">50%分位点值</text><text x="266.5" y="324.5" font-family='"Liberation Sans", "Noto Sans CJK SC", sans-serif' font-size="22" font-weight="bold" fill="#c0404e" text-anchor="end">10.00</text><text x="29.5" y="362" font-family='"Liberation Sans", "Noto Sans CJK SC", sans-serif' font-size="22" fill="#222">20%分位点值</text><text x="266.5" y="362" font-family='"Liberation Sans", "Noto Sans CJK SC", sans-serif' font-size="22" font-weight="bold" fill="#3d7f55" text-anchor="end">7.53</text><text x="29.5" y="427" font-family='"Liberation Sans", "Noto Sans CJK SC", sans-serif' font-size="22" fill="#222">最大值:</text><text x="266.5" y="427" font-family='"Liberation Sans", "Noto Sans CJK SC", sans-serif' font-size="22" font-weight="bold" fill="#c0404e" text-anchor="end">19.09</text><text x="29.5" y="465" font-family='"Liberation Sans", "Noto Sans CJK SC", sans-serif' font-size="22" fill="#222">平均值:</text><text x="266.5" y="465" font-family='"Liberation Sans", "Noto Sans CJK SC", sans-serif' font-size="22" font-weight="bold" fill="#1a1a1a" text-anchor="end">10.64</text><text x="29.5" y="503" font-family='"Liberation Sans", "Noto Sans CJK SC", sans-serif' font-size="22" fill="#222">最小值:</text><text x="266.5" y="503" font-family='"Liberation Sans", "Noto Sans CJK SC", sans-serif' font-size="22" font-weight="bold" fill="#c0404e" text-anchor="end">4.77</text><line x1="30" y1="227.3" x2="137" y2="227.3" stroke="#333" stroke-width="1.4" stroke-dasharray="3.2 2"/><line x1="29.5" y1="292" x2="159" y2="292" stroke="#333" stroke-width="1.4" stroke-dasharray="3.2 2"/><line x1="29.5" y1="329.6" x2="159" y2="329.6" stroke="#333" stroke-width="1.4" stroke-dasharray="3.2 2"/><line x1="29.5" y1="367" x2="159" y2="367" stroke="#333" stroke-width="1.4" stroke-dasharray="3.2 2"/><line x1="213.5" y1="432.5" x2="267" y2="432.5" stroke="#c0404e" stroke-width="1.4" stroke-dasharray="3.2 2"/><line x1="225" y1="508.6" x2="267" y2="508.6" stroke="#c0404e" stroke-width="1.4" stroke-dasharray="3.2 2"/><g filter="url(#sh)" opacity="0.97"><circle cx="2089.5" cy="638.5" r="40.8" fill="none" stroke="#fff" stroke-width="7.6"/><path transform="translate(-1,-2)" d="M2059 601 L2068 598 L2087 622 Q2092 630 2086 640 L2078 652 L2068 645 L2076 633 Q2079 628 2075 623 Z" fill="#fff"/><path transform="translate(-1,-2)" d="M2114 618 L2124 626 L2104 648 L2119 671 L2110 679 L2090 652 Q2086 646 2091 640 Z" fill="#fff"/><text x="2155" y="670" font-family='"Noto Sans CJK SC", sans-serif' font-size="84" fill="#fff" transform="translate(0,670) scale(1,0.88) translate(0,-670)">雪球</text><circle cx="2353" cy="634" r="4.5" fill="#fff"/><circle cx="2353" cy="656" r="4.5" fill="#fff"/></g><text x="2394" y="674" font-family='"Noto Sans CJK SC", sans-serif' font-size="72" fill="#d0d0d0">猫丙</text><text x="1622" y="0.5" font-family='"Liberation Sans", "Noto Sans CJK SC", sans-serif' font-size="20" fill="#222">导出CSV</text><text x="1747.5" y="0.5" font-family='"Liberation Sans", "Noto Sans CJK SC", sans-serif' font-size="20" fill="#222">导出图片</text><text x="1854" y="0.5" font-family='"Liberation Sans", "Noto Sans CJK SC", sans-serif' font-size="20" fill="#222">理杏仁前复权</text><text x="1987.5" y="0.5" font-family='"Liberation Sans", "Noto Sans CJK SC", sans-serif' font-size="20" fill="#222">前复权</text><text x="2065" y="0.5" font-family='"Liberation Sans", "Noto Sans CJK SC", sans-serif' font-size="20" fill="#222">后复权</text><text x="2143.5" y="0.5" font-family='"Liberation Sans", "Noto Sans CJK SC", sans-serif' font-size="20" fill="#222">股价</text><text x="2208" y="0.5" font-family='"Liberation Sans", "Noto Sans CJK SC", sans-serif' font-size="20" fill="#222">市值</text><text x="2276" y="0.5" font-family='"Liberation Sans", "Noto Sans CJK SC", sans-serif' font-size="20" fill="#222">上市以来</text><text x="2373.5" y="0.5" font-family='"Liberation Sans", "Noto Sans CJK SC", sans-serif' font-size="20" fill="#222">20年</text><text x="2431.5" y="0.5" font-family='"Liberation Sans", "Noto Sans CJK SC", sans-serif' font-size="20" fill="#222">10年</text><text x="2498.5" y="0.5" font-family='"Liberation Sans", "Noto Sans CJK SC", sans-serif' font-size="20" fill="#222">5年</text><text x="2549.5" y="0.5" font-family='"Liberation Sans", "Noto Sans CJK SC", sans-serif' font-size="20" fill="#222">3年</text><text x="2602" y="0.5" font-family='"Liberation Sans", "Noto Sans CJK SC", sans-serif' font-size="20" fill="#222">1年</text><line x1="1741.5" y1="5.3" x2="1818" y2="5.3" stroke="#222" stroke-width="1.3" stroke-dasharray="3 2"/><line x1="1852" y1="5.5" x2="1966" y2="5.5" stroke="#222" stroke-width="1.3" stroke-dasharray="3 2"/><text transform="translate(2630,470) rotate(-90)" font-family='"Liberation Sans", "Noto Sans CJK SC", sans-serif' font-size="22" fill="#e8852e" textLength="188" lengthAdjust="spacing">理杏仁前复权(元)</text></svg>
</body></html>
